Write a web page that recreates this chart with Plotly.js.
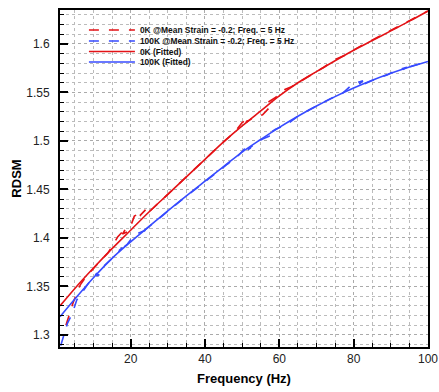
<!DOCTYPE html>
<html>
<head>
<meta charset="utf-8">
<script src="https://cdn.plot.ly/plotly-3.0.1.min.js"></script>
<style>html,body{margin:0;padding:0;background:#fff;}#chart{width:439px;height:392px;}</style>
</head>
<body>
<div id="chart"></div>
<script>
// Fitted curves
const fitFreq = [1,5,10,15,20,25,30,35,40,45,50,55,60,65,70,75,80,85,90,95,100];
const fit0K = [1.330,1.348,1.369,1.389,1.408,1.427,1.445,1.463,1.481,1.499,1.5155,1.531,1.5465,1.5600,1.5715,1.5827,1.5935,1.6035,1.6135,1.6235,1.634];
const fit100K = [1.3187,1.337,1.359,1.379,1.396,1.412,1.428,1.4435,1.4585,1.4735,1.4885,1.5015,1.514,1.5255,1.536,1.5457,1.5545,1.5625,1.5697,1.5762,1.582];

// Measured (dashed) curves
const raw0KFreq = [2.6,3.5,4.5,5.3,6.5,8,10,12,14,16.5,18.9,17.8,19.5,21,24,22.5,25,27.5,30,33,36,39,42,45,48,50,52,51,53,55.5,58,57,59,61.5,63.3,66,69,72,75,78,81,84,87,90,93,96,100];
const raw0K = [1.310,1.322,1.333,1.341,1.352,1.360,1.369,1.377,1.385,1.401,1.411,1.404,1.407,1.4225,1.429,1.423,1.427,1.436,1.445,1.456,1.467,1.478,1.488,1.499,1.509,1.519,1.524,1.519,1.524,1.527,1.537,1.540,1.545,1.553,1.556,1.562,1.569,1.576,1.584,1.589,1.596,1.602,1.608,1.614,1.620,1.626,1.634];
const raw100KFreq = [1.2,2.1,3,4.4,5.5,7,9.7,11.6,10.5,12.5,15.3,17.8,16.5,19,21,24,22.5,25,28,31,34,37,40,43,46,48.5,50.7,52.8,51.5,54,55.5,57.4,56.5,59,62,65,68,71,74,77,79.8,82.5,81,83,86,89,91.6,94.3,93,95.5,98,100];
const raw100K = [1.289,1.302,1.312,1.323,1.336,1.344,1.359,1.362,1.362,1.370,1.380,1.390,1.386,1.393,1.403,1.408,1.404,1.412,1.421,1.431,1.440,1.449,1.4585,1.467,1.476,1.483,1.492,1.494,1.491,1.499,1.502,1.505,1.506,1.512,1.517,1.5255,1.532,1.538,1.544,1.549,1.559,1.562,1.557,1.559,1.564,1.568,1.573,1.576,1.573,1.577,1.580,1.582];

const seriesNames = ["0K @Mean Strain = -0.2; Freq. = 5 Hz","100K @Mean Strain = -0.2; Freq. = 5 Hz","0K (Fitted)","100K (Fitted)"];
const RED = "rgb(228,18,22)", BLUE = "rgb(55,75,255)";

const traces = [
  {x: raw0KFreq, y: raw0K, name: seriesNames[0], mode: "lines", line: {color: RED, width: 1.6, dash: "10px,10px"}, legend: "legend"},
  {x: raw100KFreq, y: raw100K, name: seriesNames[1], mode: "lines", line: {color: BLUE, width: 1.6, dash: "10px,10px"}, legend: "legend2"},
  {x: fitFreq, y: fit0K, name: seriesNames[2], mode: "lines", line: {color: RED, width: 1.6, shape: "spline"}, legend: "legend3"},
  {x: fitFreq, y: fit100K, name: seriesNames[3], mode: "lines", line: {color: BLUE, width: 1.6, shape: "spline"}, legend: "legend4"}
];

const legFont = {family: "Liberation Sans, Arial, sans-serif", size: 8.4, color: "#111", weight: "bold"};
function leg(yp){ return {x: 0.065, y: yp, xanchor: "left", yanchor: "middle", bgcolor: "rgba(0,0,0,0)", borderwidth: 0, font: legFont, itemwidth: 46}; }

const axFont = {family: "Liberation Sans, Arial, sans-serif", size: 12, color: "#222"};
const layout = {
  width: 439, height: 392,
  margin: {l: 60, r: 11, t: 10, b: 45},
  paper_bgcolor: "#fff", plot_bgcolor: "#fff",
  showlegend: true,
  legend: leg(0.9407), legend2: leg(0.908), legend3: leg(0.877), legend4: leg(0.8457),
  xaxis: {
    range: [1, 100], tickvals: [20,40,60,80,100], ticks: "inside", ticklen: 8, tickwidth: 2, tickcolor: "#000",
    showline: true, linewidth: 2, linecolor: "#000", mirror: true, zeroline: false,
    showgrid: true, gridcolor: "#aaa", griddash: "dot", gridwidth: 1,
    minor: {dtick: 5, ticks: "inside", ticklen: 4, tickwidth: 1, tickcolor: "#000", showgrid: true, gridcolor: "#bbb", griddash: "dot", gridwidth: 1},
    tickfont: axFont,
    title: {text: "Frequency (Hz)", font: {family: "Liberation Sans, Arial, sans-serif", size: 13, color: "#000", weight: "bold"}, standoff: 8}
  },
  yaxis: {
    range: [1.2876, 1.635], dtick: 0.05, tick0: 1.3, ticks: "inside", ticklen: 8, tickwidth: 2, tickcolor: "#000",
    showline: true, linewidth: 2, linecolor: "#000", mirror: true, zeroline: false,
    showgrid: true, gridcolor: "#aaa", griddash: "dot", gridwidth: 1,
    minor: {dtick: 0.01, ticks: "inside", ticklen: 4, tickwidth: 1, tickcolor: "#000", showgrid: true, gridcolor: "#bbb", griddash: "dot", gridwidth: 1},
    tickfont: axFont, ticklabelstandoff: 6,
    title: {text: "RDSM", font: {family: "Liberation Sans, Arial, sans-serif", size: 13, color: "#000", weight: "bold"}, standoff: 2}
  }
};

Plotly.newPlot("chart", traces, layout, {staticPlot: true, displayModeBar: false});
</script>
</body>
</html>
